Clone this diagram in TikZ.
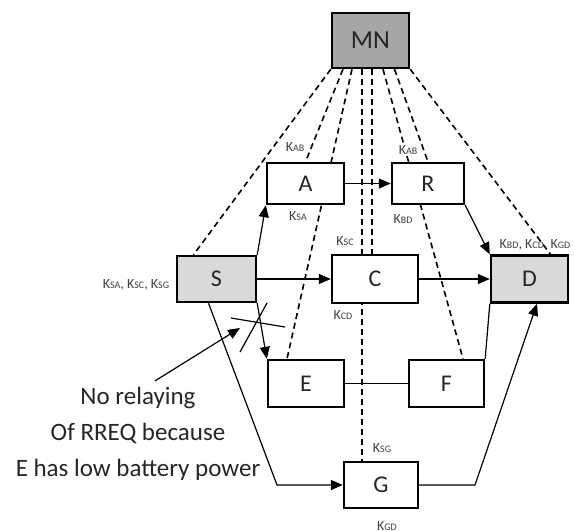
\documentclass[tikz,border=0pt]{standalone}
\usepackage{fontspec}
\setmainfont{Carlito}
\usetikzlibrary{arrows.meta,calc,backgrounds}

\newcommand{\kname}[1]{K{\fontsize{5}{6}\selectfont #1}}

\begin{document}
\begin{tikzpicture}[x=0.5pt,y=-0.5pt,
box/.style={draw,line width=1.2pt,fill=white,inner sep=0pt,text=black!85,font=\fontsize{12}{14}\selectfont},
key/.style={inner sep=0pt,text=black!75,font=\fontsize{7}{8}\selectfont},
note/.style={align=center,inner sep=0pt,text=black!85,font=\fontsize{12.5}{18}\selectfont},
arrow/.style={-{Triangle[length=6pt,width=5pt]},line width=0.6pt},
link/.style={line width=0.6pt},
cable/.style={line width=0.8pt,dash pattern=on 3pt off 2pt} ]

\useasboundingbox (0,0) rectangle (574,531);

\node[box,fill=black!35,minimum width=38.5pt,minimum height=27.5pt,font=\fontsize{13}{15}\selectfont] (MN) at (370.5,40.5) {MN};

\node[box,fill=black!15,minimum width=39.5pt,minimum height=23pt] (S) at (216.5,279) {S};
\node[box,minimum width=38.5pt,minimum height=20.5pt] (A) at (305.5,183.5) {A};
\node[box,minimum width=36pt,minimum height=20.5pt] (R) at (428,183.5) {R};
\node[box,minimum width=43pt,minimum height=24pt] (C) at (375,279) {C};
\node[box,fill=black!15,minimum width=38.5pt,minimum height=23.5pt] (D) at (529.5,279) {D};
\node[box,minimum width=38pt,minimum height=23.5pt] (E) at (306,383.5) {E};
\node[box,minimum width=37.5pt,minimum height=23.5pt] (F) at (446.5,383.5) {F};
\node[box,minimum width=37pt,minimum height=23pt] (G) at (381,485) {G};

% key links from MN
\begin{scope}[on background layer]
\draw[cable] (MN.south west) -- ($(S.north)+(-23,0)$);
\draw[cable] ($(MN.south)+(-27.5,0)$) -- (A.north);
\draw[cable] ($(MN.south)+(-18.5,0)$) -- ($(E.north)+(-19,0)$);
\draw[cable] ($(MN.south)+(-8.5,0)$) -- ($(G.north)+(-19,0)$);
\draw[cable] ($(MN.south)+(1.5,0)$) -- ($(C.north)+(-3,0)$);
\draw[cable] ($(MN.south)+(12.5,0)$) -- ($(F.north)+(16.5,0)$);
\draw[cable] ($(MN.south)+(24,0)$) -- (R.north);
\draw[cable] (MN.south east) -- ($(D.north)+(21,0)$);
\end{scope}

% RREQ paths
\draw[arrow] (S.north east) -- (A.south west);
\draw[arrow] (A) -- (R);
\draw[arrow] (R.south east) -- (D.north west);
\draw[arrow] (S) -- (C);
\draw[arrow] (C) -- (D);
\draw[arrow] (S.south east) -- (E.north west);
\draw[link] (E) -- (F);
\draw[link] (F.north east) -- (D.south west);

\coordinate (bendSG) at (277,485);
\coordinate (bendGD) at (475,485);
\draw[arrow] ($(S.south)+(-8,0)$) -- (bendSG) -- (G.west);
\draw[arrow] (G.east) -- (bendGD) -- ($(D.south)+(7.5,0)$);

% cross on S-E
\draw[link] (231,318) -- (285,327);
\draw[link] (267,303) -- (240,352);
\coordinate (cross) at (240,328);

\node[note] (note) at (138,434) {No relaying\\Of RREQ because\\E has low battery power};
\draw[arrow] ($(note.north)+(17,-6)$) -- (cross);

% keys
\node[key] (kab1) at (295,147) {\kname{AB}};
\node[key,fill=white] (kab2) at (408,150) {\kname{AB}};
\node[key] (ksa) at (298,216) {\kname{SA}};
\node[key] (kbd) at (403,219) {\kname{BD}};
\node[key] (ksc) at (345,241) {\kname{SC}};
\node[key] (kd) at (535,245) {\kname{BD}, \kname{CD}, \kname{GD}};
\node[key] (kcd) at (343,315) {\kname{CD}};
\node[key] (ksg) at (382,448) {\kname{SG}};
\node[key] (kgd) at (387,526) {\kname{GD}};
\node[key] (ks) at (136,285) {\kname{SA}, \kname{SC}, \kname{SG}};

\end{tikzpicture}
\end{document}
